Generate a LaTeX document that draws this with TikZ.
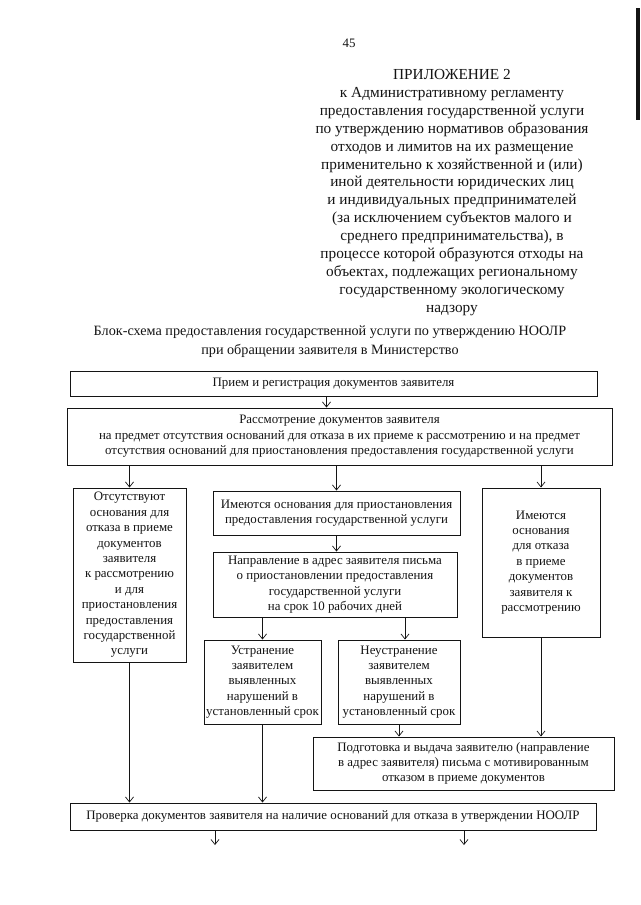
\documentclass[tikz,border=0pt]{standalone}
\usepackage{fontspec}
\setmainfont{Liberation Serif}
\usetikzlibrary{arrows.meta}
\definecolor{schemecolor0000}{RGB}{255,255,255}
\definecolor{schemecolor0001}{RGB}{20,20,20}
\newcommand{\boxfont}{\fontsize{12.9}{15.4}\selectfont}
\newcommand{\headfont}{\fontsize{15.3}{17.9}\selectfont}
\newcommand{\titlefont}{\fontsize{14.2}{19}\selectfont}

\begin{document}
\begin{tikzpicture}[yscale=-1
,pstyle0/.style={draw=schemecolor0001,line width=1pt,inner sep=0pt,align=center,font=\boxfont,text=schemecolor0001}
,pstyle1/.style={color=schemecolor0001,line width=0.8pt,-{Straight Barb[length=5pt,width=8pt,line width=0.7pt]}}
,pstyle2/.style={color=schemecolor0001,line width=0.8pt}
,pstyle3/.style={align=center,inner sep=0pt,text=schemecolor0001}
]
\useasboundingbox[fill=schemecolor0000] (0pt,0pt) rectangle (640pt,905pt);
\fill[schemecolor0001] (636pt,8pt) rectangle (640pt,120pt);
\node (page) at (349pt,43pt)[pstyle3,font=\boxfont]{45};
\node (annex) at (452pt,192.5pt)[pstyle3,font=\headfont]{ПРИЛОЖЕНИЕ 2\\
к Административному регламенту\\
предоставления государственной услуги\\
по утверждению нормативов образования\\
отходов и лимитов на их размещение\\
применительно к хозяйственной и (или)\\
иной деятельности юридических лиц\\
и индивидуальных предпринимателей\\
(за исключением субъектов малого и\\
среднего предпринимательства), в\\
процессе которой образуются отходы на\\
объектах, подлежащих региональному\\
государственному экологическому\\
надзору};
\node (title) at (330pt,342pt)[pstyle3,font=\titlefont]{Блок-схема предоставления государственной услуги по утверждению НООЛР\\
при обращении заявителя в Министерство};
% boxes
\node (priem) at (333.5pt,383.5pt)[pstyle0,minimum width=527pt,minimum height=25pt]{Прием и регистрация документов заявителя};
\node (rassm) at (339.5pt,436.5pt)[pstyle0,minimum width=545pt,minimum height=57pt]{Рассмотрение документов заявителя\\
на предмет отсутствия оснований для отказа в их приеме к рассмотрению и на предмет\\
отсутствия оснований для приостановления предоставления государственной услуги};
\node (otsut) at (129.5pt,575pt)[pstyle0,minimum width=113pt,minimum height=174pt]{Отсутствуют\\ основания для\\ отказа в приеме\\ документов\\ заявителя\\ к рассмотрению\\ и для\\ приостановления\\ предоставления\\ государственной\\ услуги};
\node (osnov) at (336.5pt,513pt)[pstyle0,minimum width=247pt,minimum height=44pt]{Имеются основания для приостановления\\ предоставления государственной услуги};
\node (otkaz) at (541pt,562.5pt)[pstyle0,minimum width=118pt,minimum height=149pt]{Имеются\\ основания\\ для отказа\\ в приеме\\ документов\\ заявителя к\\ рассмотрению};
\node (napr) at (335pt,584.5pt)[pstyle0,minimum width=244pt,minimum height=65pt]{Направление в адрес заявителя письма\\ о приостановлении предоставления\\ государственной услуги\\ на срок 10 рабочих дней};
\node (ustr) at (262.5pt,682pt)[pstyle0,minimum width=117pt,minimum height=84pt]{Устранение\\ заявителем\\ выявленных\\ нарушений в\\ установленный срок};
\node (neustr) at (399pt,682pt)[pstyle0,minimum width=122pt,minimum height=84pt]{Неустранение\\ заявителем\\ выявленных\\ нарушений в\\ установленный срок};
\node (podg) at (463.5pt,763.5pt)[pstyle0,minimum width=301pt,minimum height=53pt]{Подготовка и выдача заявителю (направление\\ в адрес заявителя) письма с мотивированным\\ отказом в приеме документов};
\node (prov) at (333pt,816.5pt)[pstyle0,minimum width=526pt,minimum height=27pt]{Проверка документов заявителя на наличие оснований для отказа в утверждении НООЛР};
\coordinate (next1) at (215pt,845pt);
\coordinate (next2) at (464pt,845pt);
% connectors
\draw[pstyle1] ([xshift=-7pt]priem.south) -- ([xshift=-7pt]priem.south |- rassm.north);
\draw[pstyle1] (otsut.north |- rassm.south) -- (otsut.north);
\draw[pstyle1] (osnov.north |- rassm.south) -- (osnov.north);
\draw[pstyle1] (otkaz.north |- rassm.south) -- (otkaz.north);
\draw[pstyle1] (osnov.south) -- (osnov.south |- napr.north);
\draw[pstyle1] (ustr.north |- napr.south) -- (ustr.north);
\draw[pstyle1] ([xshift=6pt]neustr.north |- napr.south) -- ([xshift=6pt]neustr.north);
\draw[pstyle1] (neustr.south) -- (neustr.south |- podg.north);
\draw[pstyle1] (otkaz.south) -- (otkaz.south |- podg.north);
\draw[pstyle1] (otsut.south) -- (otsut.south |- prov.north);
\draw[pstyle1] (ustr.south) -- (ustr.south |- prov.north);
\draw[pstyle1] (next1 |- prov.south) -- (next1);
\draw[pstyle1] (next2 |- prov.south) -- (next2);
\end{tikzpicture}
\end{document}
